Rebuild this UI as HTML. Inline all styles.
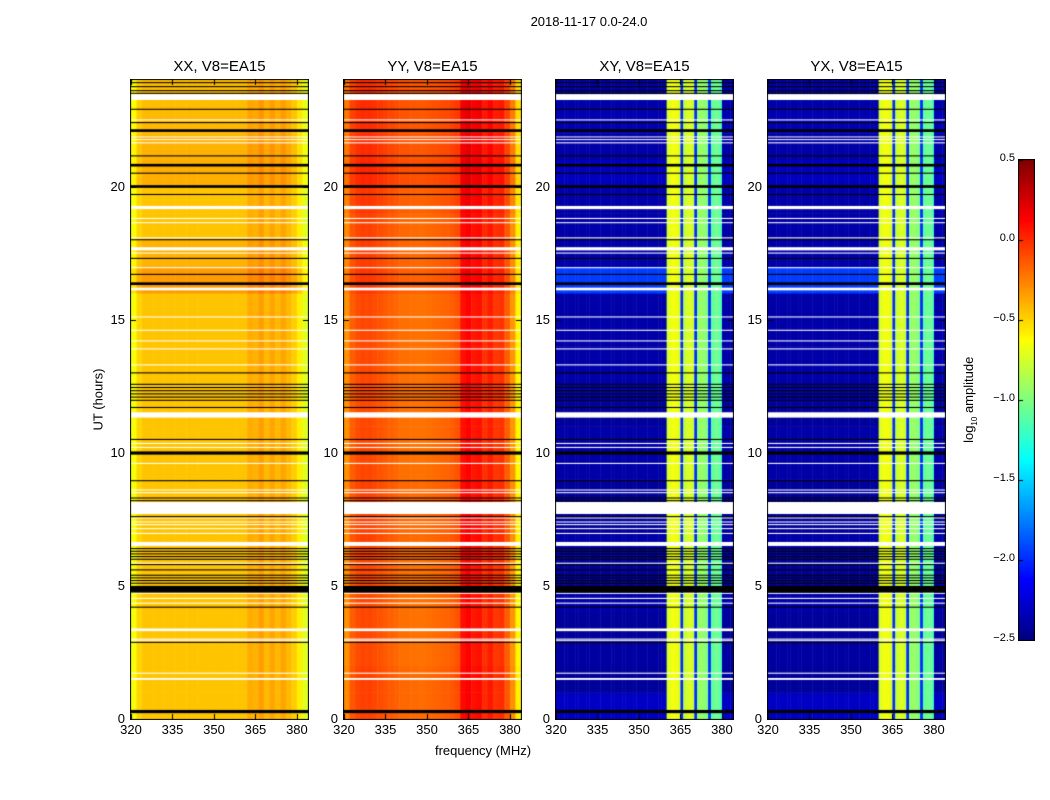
<!DOCTYPE html>
<html><head><meta charset="utf-8">
<style>
body{margin:0;background:#fff;width:1050px;height:800px;overflow:hidden;font-family:"Liberation Sans","DejaVu Sans",sans-serif;}
#root{position:relative;width:1050px;height:800px;}
.t{position:absolute;white-space:nowrap;color:#000;}
canvas{position:absolute;}
</style></head>
<body>
<div id="root">
<div class="t" style="left:489px;top:14px;width:200px;text-align:center;font-size:13px;">2018-11-17 0.0-24.0</div>
<div class="t" style="left:48px;top:392px;width:100px;text-align:center;font-size:13px;transform:rotate(-90deg);">UT (hours)</div>
<div class="t" style="left:383px;top:743px;width:200px;text-align:center;font-size:13px;">frequency (MHz)</div>
<div class="t" style="left:910px;top:391px;width:120px;text-align:center;font-size:13px;transform:rotate(-90deg);">log<sub style="font-size:8px">10</sub> amplitude</div>
</div>
<script>
// ---- data ----
const panelTitles = ["XX, V8=EA15","YY, V8=EA15","XY, V8=EA15","YX, V8=EA15"];
const xTicks = [320,335,350,365,380];
const yTicks = [0,5,10,15,20];
const cbTicks = [-2.5,-2.0,-1.5,-1.0,-0.5,0.0,0.5];
const cbTickLabels = ["\u22122.5","\u22122.0","\u22121.5","\u22121.0","\u22120.5","0.0","0.5"];
// frequency profiles, 2 MHz bins from 320 to 384 (log10 amplitude)
const profXX = [-0.65,-0.5,-0.45,-0.45,-0.45,-0.45,-0.45,-0.45,-0.45,-0.45,-0.45,-0.45,-0.45,-0.45,-0.45,-0.45,-0.45,-0.45,-0.45,-0.45,-0.45,-0.38,-0.4,-0.34,-0.42,-0.36,-0.42,-0.36,-0.42,-0.48,-0.58,-0.72];
const profYY = [-0.3,-0.15,-0.1,-0.08,-0.08,-0.1,-0.12,-0.14,-0.16,-0.18,-0.2,-0.2,-0.21,-0.21,-0.21,-0.2,-0.19,-0.18,-0.17,-0.15,-0.12,0.08,0.12,0.06,0.08,-0.02,0.04,-0.04,-0.02,-0.15,-0.32,-0.6];
// cross-hand profiles, 1 MHz bins from 320 to 384
const profXY = [-2.45,-2.45,-2.45,-2.45,-2.45,-2.45,-2.45,-2.45,-2.45,-2.45,-2.45,-2.45,-2.45,-2.45,-2.45,-2.45,-2.45,-2.45,-2.45,-2.45,-2.45,-2.45,-2.45,-2.45,-2.45,-2.45,-2.45,-2.45,-2.45,-2.45,-2.45,-2.45,-2.45,-2.45,-2.45,-2.45,-2.45,-2.45,-2.45,-2.45,-0.75,-0.68,-0.65,-0.68,-0.72,-2.0,-0.8,-0.75,-0.72,-0.78,-2.0,-0.95,-0.92,-0.95,-1.0,-2.0,-1.1,-1.05,-1.05,-1.15,-2.45,-2.45,-2.45,-2.45];
const profYX = [-2.45,-2.45,-2.45,-2.45,-2.45,-2.45,-2.45,-2.45,-2.45,-2.45,-2.45,-2.45,-2.45,-2.45,-2.45,-2.45,-2.45,-2.45,-2.45,-2.45,-2.45,-2.45,-2.45,-2.45,-2.45,-2.45,-2.45,-2.45,-2.45,-2.45,-2.45,-2.45,-2.45,-2.45,-2.45,-2.45,-2.45,-2.45,-2.45,-2.45,-0.75,-0.68,-0.65,-0.68,-0.72,-2.0,-0.8,-0.75,-0.72,-0.78,-2.0,-0.95,-0.92,-0.95,-1.0,-2.0,-1.1,-1.05,-1.05,-1.15,-2.45,-2.45,-2.45,-2.45];
// hourly time offsets (hour 0..23)
const timeXX = [0,0,0,0,0,0,0,0,0,0,0,0,0,0,0,0,0.12,0.05,0,0,0.06,0.05,0.03,0.02];
const timeYY = [0.02,0.02,0,0,0,0,0.02,0.02,0.02,0,0,0,0,0,0,0,0.05,0.03,0.02,0.05,0.1,0.08,0.08,0.08];
// background level for cross-hands (hour 0..23)
const bgXY = [-2.3,-2.42,-2.4,-2.42,-2.38,-2.42,-2.38,-2.42,-2.42,-2.38,-2.38,-2.42,-2.38,-2.38,-2.38,-2.38,-1.95,-2.38,-2.38,-2.38,-2.32,-2.38,-2.35,-2.38];
const bgYX = [-2.3,-2.42,-2.4,-2.42,-2.38,-2.42,-2.38,-2.42,-2.42,-2.38,-2.38,-2.42,-2.38,-2.38,-2.38,-2.38,-1.95,-2.38,-2.38,-2.38,-2.32,-2.38,-2.35,-2.38];
// flagged (blank) intervals in hours -> white
const whiteFlags = [[23.25,23.47],[22.48,22.52],[21.85,21.88],[21.75,21.78],[21.62,21.66],[19.15,19.27],[18.78,18.82],[18.62,18.66],[18.05,18.09],[17.6,17.72],[17.48,17.52],[16.93,16.97],[16.1,16.2],[15.08,15.12],[14.58,14.62],[14.18,14.22],[13.88,13.92],[13.28,13.32],[11.32,11.52],[10.33,10.37],[10.18,10.22],[9.58,9.62],[8.58,8.62],[8.48,8.52],[7.7,8.15],[7.53,7.57],[7.38,7.42],[7.28,7.32],[7.13,7.17],[6.95,6.99],[6.5,6.65],[5.83,5.87],[4.7,4.74],[4.51,4.55],[4.33,4.37],[3.3,3.4],[2.98,3.02],[2.93,2.96],[1.7,1.74],[1.47,1.54]];
// data gap lines in hours -> black
const blackFlags = [[23.88,23.92],[23.73,23.77],[23.58,23.62],[23.48,23.52],[22.88,22.92],[22.38,22.42],[22.05,22.15],[21.13,21.17],[20.75,20.85],[20.48,20.52],[19.95,20.05],[19.68,19.72],[17.98,18.02],[17.28,17.32],[16.68,16.72],[16.3,16.4],[12.98,13.02],[12.55,12.59],[12.43,12.47],[12.31,12.35],[12.19,12.23],[12.07,12.11],[11.95,11.99],[11.68,11.72],[10.48,10.52],[9.93,10.05],[8.93,8.97],[8.28,8.32],[8.18,8.22],[7.58,7.62],[6.38,6.42],[6.28,6.32],[6.18,6.22],[6.08,6.12],[5.98,6.02],[5.78,5.82],[5.58,5.62],[5.38,5.42],[5.28,5.32],[5.18,5.22],[5.08,5.12],[4.75,5.0],[4.18,4.22],[2.86,2.9],[0.22,0.34]];
const panelProfiles = [profXX, profYY, profXY, profYX];
const panelTime = [timeXX, timeYY, bgXY, bgYX];
const panelMode = ["add","add","max","max"];

// ---- layout ----
const root = document.getElementById('root');
const panelLeft = [131,344,556,768];
const PW = 177, PT = 80, PH = 639;
const fMin = 320, fMax = 384, tMin = 0, tMax = 24;
const vMin = -2.5, vMax = 0.5;
function jet(v){
  let x = (v - vMin)/(vMax - vMin); x = Math.max(0, Math.min(1, x));
  const c = a => Math.round(255*Math.max(0, Math.min(1, a)));
  return `rgb(${c(1.5-Math.abs(4*x-3))},${c(1.5-Math.abs(4*x-2))},${c(1.5-Math.abs(4*x-1))})`;
}
function addText(txt, left, top, w, align, size, name){
  const d = document.createElement('div');
  d.className='t';
  
  
  d.style.left=left+'px'; d.style.top=top+'px'; d.style.width=w+'px';
  d.style.textAlign=align; d.style.fontSize=size+'px';
  d.textContent=txt; root.appendChild(d);
}
panelTitles.forEach((title, p) => {
  const L = panelLeft[p];
  const xs = f => (f - fMin)/(fMax - fMin)*PW;
  const ys = t => PH - (t - tMin)/(tMax - tMin)*PH;
  const cv = document.createElement('canvas');
  cv.width = PW+2; cv.height = PH+2;
  cv.style.left = (L-1)+'px'; cv.style.top = (PT-1)+'px';
  
  
  root.appendChild(cv);
  const g = cv.getContext('2d');
  g.translate(1,1);
  const prof = panelProfiles[p], tm = panelTime[p];
  const nb = prof.length, bw = (fMax-fMin)/nb;
  for (let h=0; h<tm.length; h++){
    for (let i=0;i<nb;i++){
      const v = panelMode[p]==="add" ? prof[i]+tm[h] : (prof[i] > -2.3 ? prof[i] : tm[h]);
      g.fillStyle = jet(v);
      const x0 = xs(fMin+i*bw), x1 = xs(fMin+(i+1)*bw);
      const y0 = ys(h+1), y1 = ys(h);
      g.fillRect(x0, y0, x1-x0+0.5, y1-y0+0.5);
    }
  }
  whiteFlags.forEach(([a,b]) => { g.fillStyle='#fff'; g.fillRect(0, ys(b), PW, Math.max(1, ys(a)-ys(b))); });
  blackFlags.forEach(([a,b]) => { g.fillStyle='#000'; g.fillRect(0, ys(b), PW, Math.max(1, ys(a)-ys(b))); });
  g.strokeStyle='#000'; g.lineWidth=1;
  g.strokeRect(-0.5,-0.5,PW+1,PH+1);
  xTicks.forEach(f => {
    const x = Math.round(xs(f))+0.5;
    g.beginPath(); g.moveTo(x,PH); g.lineTo(x,PH-5); g.moveTo(x,0); g.lineTo(x,5); g.stroke();
    addText(String(f), L+xs(f)-20, PT+PH+3, 40, 'center', 13, 'x-tick-label');
  });
  yTicks.forEach(t => {
    const y = Math.round(ys(t))+0.5;
    g.beginPath(); g.moveTo(0,y); g.lineTo(5,y); g.moveTo(PW,y); g.lineTo(PW-5,y); g.stroke();
    addText(String(t), L-46, PT+ys(t)-8, 40, 'right', 13, 'y-tick-label');
  });
  addText(title, L, 58, PW, 'center', 15, 'panel-title');
});
// colorbar
const CL=1019, CT=160, CW=15, CH=480;
const cb = document.createElement('canvas');
cb.width=CW+2; cb.height=CH+2; cb.style.left=(CL-1)+'px'; cb.style.top=(CT-1)+'px';


root.appendChild(cb);
const cg = cb.getContext('2d'); cg.translate(1,1);
for (let y=0;y<CH;y++){ cg.fillStyle = jet(vMax - (y+0.5)/CH*(vMax-vMin)); cg.fillRect(0,y,CW,1); }
cg.strokeStyle='#000'; cg.strokeRect(-0.5,-0.5,CW+1,CH+1);
cbTicks.forEach((v,i) => {
  const y = (vMax - v)/(vMax-vMin)*CH;
  cg.beginPath(); cg.moveTo(0,Math.round(y)+0.5); cg.lineTo(4,Math.round(y)+0.5); cg.stroke();
  addText(cbTickLabels[i], CL-46, CT+y-8, 42, 'right', 11, 'colorbar-tick-label');
});
</script>
</body></html>
